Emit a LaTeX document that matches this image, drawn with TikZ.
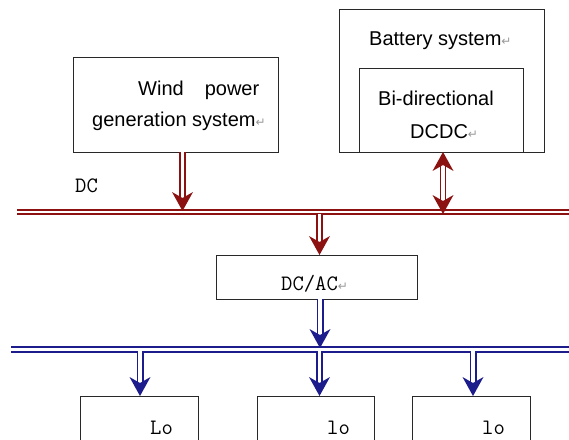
\documentclass[tikz,border=0pt]{standalone}
\usepackage{fontspec}
\setmainfont{Liberation Sans}
\newfontfamily\symfont{DejaVu Sans}
\usetikzlibrary{calc}
\definecolor{dred}{RGB}{140,18,18}
\definecolor{dblue}{RGB}{28,28,140}
\definecolor{boxline}{RGB}{40,40,40}
\newcommand{\retmark}{{\symfont\color{gray!80}\fontsize{12}{12}\selectfont ↵}}
\begin{document}
\begin{tikzpicture}[x=1pt,y=-1pt,
  box/.style={draw=boxline,line width=1pt,inner sep=0pt,outer sep=0pt,anchor=north west},
  txt/.style={inner sep=0pt,font=\fontsize{20}{20}\selectfont,anchor=base west},
  mono/.style={inner sep=0pt,font=\ttfamily\fontsize{22}{22}\selectfont,anchor=base west},
  redbus/.style={draw=dred,double=white,line width=1.5pt,double distance=2.5pt},
  redshaft/.style={draw=dred,double=white,line width=1.5pt,double distance=3.5pt},
  bluebus/.style={draw=dblue,double=white,line width=1.7pt,double distance=3.6pt},
  blueshaft/.style={draw=dblue,double=white,line width=1.6pt,double distance=3.8pt},
  tipdown/.pic={\fill (0,0) -- (-10.5,-19) -- (0,-13) -- (10.5,-19) -- cycle;},
  tipup/.pic={\fill (0,0) -- (-10.5,19) -- (0,13) -- (10.5,19) -- cycle;}
]
\useasboundingbox (0,0) rectangle (569,439);
\clip (0,0) rectangle (569,439);
\fill[white] (0,0) rectangle (569,439);

% boxes
\node[box,minimum width=205pt,minimum height=95pt] (wind) at (73,57) {};
\node[box,minimum width=205pt,minimum height=143pt] (batt) at (339,9) {};
\node[box,minimum width=164pt,minimum height=84pt] (bidc) at (359,68) {};
\node[box,minimum width=201pt,minimum height=44pt] (dcac) at (216,255) {};
\node[box,minimum width=118pt,minimum height=60pt] (load1) at (80,396) {};
\node[box,minimum width=117pt,minimum height=60pt] (load2) at (257,396) {};
\node[box,minimum width=118pt,minimum height=60pt] (load3) at (412,396) {};

% texts
\node[txt] (t1) at (138,95) {Wind\hspace{21pt}power};
\node[txt] (t2) at (92,126) {generation system\retmark};
\node[txt] (t3) at (369,45) {Battery system\retmark};
\node[txt] (t4) at (378,105) {Bi-directional};
\node[txt] (t5) at (410,138) {DCDC\retmark};
\node[mono] (t6) at (75,192) {DC};
\node[mono] (t7) at (281,290) {DC/AC\retmark};
\node[mono] (t8) at (150,434) {Lo};
\node[mono] (t9) at (327,434) {lo};
\node[mono] (t10) at (482,434) {lo};

% buses
\coordinate (rb0) at (17,212);
\coordinate (rb1) at (575,212);
\coordinate (bb0) at (11,349.5);
\coordinate (bb1) at (575,349.5);
\draw[redbus] (rb0) -- (rb1);
\draw[bluebus] (bb0) -- (bb1);

% wind -> DC bus
\coordinate (w0) at (182.5,152);
\coordinate (w1) at (182.5,211);
\draw[redshaft] (w0) -- ($(w1)+(0,-14)$);
\pic[color=dred] at (w1) {tipdown};

% bidirectional DCDC <-> DC bus
\coordinate (b0) at (443,152);
\coordinate (b1) at (443,214);
\draw[redshaft] ($(b0)+(0,14)$) -- ($(b1)+(0,-14)$);
\pic[color=dred] at (b0) {tipup};
\pic[color=dred] at (b1) {tipdown};

% DC bus -> DC/AC
\coordinate (d0) at (319.5,214);
\coordinate (d1) at (319.5,255);
\draw[redshaft] (d0) -- ($(d1)+(0,-14)$);
\pic[color=dred] at (d1) {tipdown};

% DC/AC -> AC bus
\coordinate (a0) at (320,299);
\coordinate (a1) at (320,348);
\draw[blueshaft] (a0) -- ($(a1)+(0,-14)$);
\pic[color=dblue] at (a1) {tipdown};

% AC bus -> loads
\foreach \n/\x in {1/140,2/319.5,3/473}{
  \coordinate (l\n a) at (\x,351);
  \coordinate (l\n b) at (\x,396);
  \draw[blueshaft] (l\n a) -- ($(l\n b)+(0,-14)$);
  \pic[color=dblue] at (l\n b) {tipdown};
}
\end{tikzpicture}
\end{document}
